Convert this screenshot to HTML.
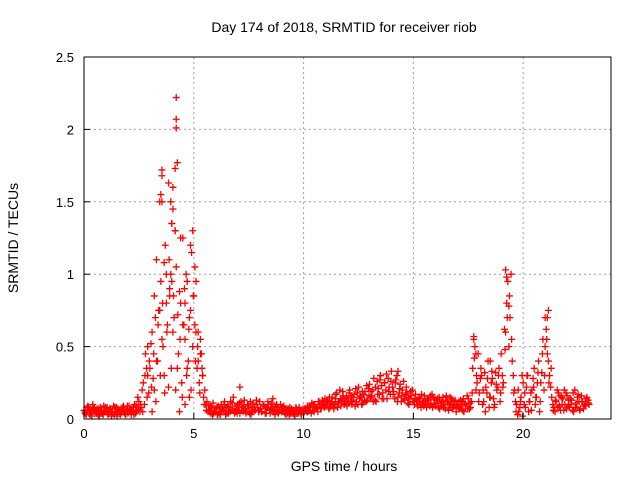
<!DOCTYPE html>
<html><head><meta charset="utf-8"><style>
body{margin:0;background:#fff}
svg{display:block;font-family:"Liberation Sans",sans-serif}
</style></head><body>
<svg id="chart" width="640" height="480" viewBox="0 0 640 480">
<text x="344" y="32" font-size="14" text-anchor="middle">Day 174 of 2018, SRMTID for receiver riob</text>
<text x="344" y="471" font-size="14" text-anchor="middle">GPS time / hours</text>
<text transform="translate(18,238) rotate(-90)" font-size="14" text-anchor="middle">SRMTID / TECUs</text>
<g id="grid"></g>
<g id="marks"></g>
<rect x="84" y="57" width="527" height="362" fill="none" stroke="#000" stroke-width="1"/>
<g id="axes"></g>
</svg>
<script>
const xTicks=[0,5,10,15,20];
const yTicks=[0,0.5,1,1.5,2,2.5];
const yTickLabels=["0","0.5","1","1.5","2","2.5"];
const series1Start=0.0;
const series1=[0.06,0.03,0.08,0.05,0.10,0.04,0.07,0.02,0.06,0.09,
0.05,0.03,0.07,0.04,0.08,0.02,0.06,0.05,0.09,0.03,
0.04,0.07,0.05,0.10,0.06,0.12,0.08,0.25,0.45,0.30,
0.35,0.60,0.85,1.10,0.75,0.95,0.50,1.20,0.65,0.90,
1.35,0.70,1.05,0.45,0.80,1.25,0.55,0.95,0.70,1.15,
0.85,0.60,0.40,0.55,0.30,0.20,0.12,0.06,0.08,0.04,
0.05,0.09,0.03,0.07,0.12,0.04,0.08,0.06,0.15,0.05,
0.10,0.04,0.08,0.13,0.05,0.09,0.03,0.11,0.06,0.08,
0.12,0.05,0.09,0.04,0.10,0.07,0.14,0.03,0.08,0.06,
0.05,0.09,0.03,0.07,0.04,0.06,0.02,0.05,0.08,0.03,
0.04,0.07,0.05,0.09,0.06,0.10,0.08,0.12,0.07,0.11,
0.09,0.13,0.08,0.15,0.10,0.18,0.12,0.09,0.16,0.11,
0.14,0.20,0.10,0.17,0.12,0.22,0.15,0.11,0.19,0.13,
0.24,0.16,0.28,0.12,0.21,0.30,0.18,0.25,0.14,0.22,
0.33,0.19,0.27,0.15,0.24,0.20,0.13,0.18,0.10,0.16,
0.12,0.17,0.09,0.14,0.11,0.16,0.08,0.13,0.10,0.15,
0.09,0.14,0.07,0.12,0.10,0.16,0.06,0.11,0.08,0.13,
0.10,0.07,0.12,0.05,0.09,0.14,0.08,0.35,0.50,0.25,
0.18,0.30,0.12,0.22,0.40,0.15,0.28,0.10,0.20,0.35,
0.45,0.25,0.60,0.95,0.70,0.40,0.20,0.10,0.05,0.15,
0.25,0.08,0.30,0.12,0.20,0.35,0.15,0.40,0.25,0.55,
0.70,0.45,0.30,0.15,0.08,0.12,0.18,0.06,0.14,0.10,
0.16,0.08,0.13,0.05,0.11,0.17,0.07,0.12,0.09,0.15,
0.10];
const series2Start=0.05;
const series2=[0.04,0.08,0.05,0.02,0.07,0.06,0.03,0.08,0.04,0.05,
0.08,0.06,0.02,0.09,0.05,0.07,0.03,0.08,0.04,0.06,
0.09,0.03,0.08,0.04,0.15,0.05,0.20,0.10,0.35,0.18,
0.52,0.28,0.70,0.40,1.50,0.55,0.30,0.80,0.22,1.00,
0.60,1.30,0.35,0.88,0.25,0.65,1.00,0.40,0.75,0.50,
0.65,0.35,0.25,0.45,0.15,0.10,0.05,0.09,0.03,0.07,
0.08,0.04,0.10,0.06,0.03,0.09,0.05,0.11,0.04,0.07,
0.06,0.12,0.05,0.07,0.10,0.04,0.08,0.06,0.13,0.05,
0.07,0.10,0.04,0.08,0.06,0.11,0.05,0.09,0.04,0.10,
0.08,0.04,0.06,0.03,0.07,0.05,0.08,0.04,0.06,0.05,
0.06,0.05,0.08,0.04,0.10,0.07,0.05,0.09,0.13,0.08,
0.12,0.07,0.11,0.09,0.14,0.08,0.20,0.13,0.10,0.15,
0.11,0.16,0.13,0.09,0.18,0.14,0.10,0.17,0.12,0.21,
0.15,0.20,0.13,0.26,0.17,0.23,0.14,0.20,0.28,0.17,
0.22,0.14,0.30,0.18,0.12,0.26,0.17,0.11,0.14,0.20,
0.10,0.13,0.15,0.08,0.12,0.10,0.14,0.09,0.17,0.11,
0.13,0.08,0.11,0.15,0.07,0.12,0.10,0.14,0.09,0.05,
0.08,0.13,0.06,0.11,0.16,0.07,0.12,0.55,0.20,0.45,
0.28,0.10,0.32,0.18,0.08,0.25,0.14,0.32,0.22,0.12,
0.30,0.62,0.80,0.50,1.00,0.30,0.12,0.03,0.08,0.30,
0.10,0.22,0.05,0.18,0.28,0.10,0.25,0.05,0.32,0.20,
0.62,0.40,0.22,0.10,0.05,0.20,0.09,0.15,0.06,0.18,
0.09,0.14,0.06,0.20,0.08,0.12,0.16,0.07,0.10,0.13];
const series3Start=0.075;
const series3=[0.05,0.09,0.03,0.06,0.08,0.04,0.07,0.05,0.03,0.08,
0.04,0.07,0.05,0.03,0.08,0.06,0.04,0.07,0.05,0.09,
0.06,0.05,0.03,0.09,0.07,0.10,0.05,0.30,0.15,0.40,
0.22,0.45,0.12,0.65,0.30,0.80,0.18,0.60,1.10,0.35,
0.85,0.20,0.72,0.55,0.15,0.90,0.30,0.62,0.20,0.85,
0.40,0.50,0.18,0.35,0.10,0.06,0.09,0.04,0.11,0.05,
0.03,0.07,0.05,0.10,0.08,0.04,0.12,0.06,0.09,0.04,
0.11,0.06,0.09,0.04,0.07,0.12,0.05,0.08,0.10,0.06,
0.05,0.09,0.07,0.12,0.04,0.08,0.06,0.10,0.05,0.08,
0.06,0.07,0.04,0.08,0.05,0.03,0.07,0.06,0.04,0.07,
0.07,0.09,0.06,0.11,0.05,0.08,0.12,0.07,0.10,0.14,
0.10,0.15,0.12,0.07,0.17,0.11,0.14,0.19,0.12,0.09,
0.18,0.12,0.15,0.21,0.10,0.16,0.19,0.13,0.23,0.16,
0.19,0.12,0.22,0.17,0.27,0.14,0.25,0.31,0.19,0.26,
0.17,0.25,0.12,0.21,0.16,0.14,0.22,0.15,0.19,0.12,
0.14,0.10,0.12,0.17,0.09,0.13,0.11,0.16,0.08,0.14,
0.11,0.15,0.09,0.08,0.13,0.10,0.15,0.07,0.12,0.09,
0.12,0.09,0.14,0.10,0.07,0.11,0.18,0.42,0.30,0.12,
0.35,0.20,0.05,0.28,0.15,0.33,0.08,0.24,0.30,0.18,
0.22,0.48,0.70,0.85,0.55,0.18,0.05,0.20,0.12,0.02,
0.18,0.30,0.12,0.06,0.22,0.15,0.32,0.12,0.45,0.30,
0.55,0.25,0.35,0.06,0.13,0.08,0.16,0.10,0.20,0.07,
0.13,0.10,0.18,0.08,0.15,0.06,0.12,0.09,0.14,0.11];
const extraTimes=[4.2,4.2,4.2,4.25,4.15,3.55,3.55,4.05,3.85,3.5,3.55,3.95,4.05,4.0,4.15,4.4,4.95,4.85,3.65,3.75,4.0,3.45,4.6,5.05,5.1,5.2,5.3,4.35,4.6,3.1,4.8,17.75,19.2,19.25,21.15,21.1,14.3,7.1,13.5,3.3,3.9,4.5,4.7,5.4,3.2,2.9,19.35,21.0,17.85,18.5];
const extraValues=[2.22,2.07,2.01,1.77,1.73,1.72,1.68,1.60,1.63,1.55,1.50,1.50,1.45,1.35,1.30,1.25,1.30,1.20,1.08,1.00,0.95,0.75,0.80,1.05,0.95,0.60,0.45,0.05,0.10,0.05,0.15,0.57,1.03,0.98,0.75,0.70,0.33,0.22,0.30,0.40,0.85,0.65,0.35,0.30,0.20,0.50,0.78,0.50,0.45,0.40];

const X0=84,X1=611,Y0=419,Y1=57,XMAX=24,YMAX=2.5;
const sx=v=>X0+v/XMAX*(X1-X0);
const sy=v=>Y0-v/YMAX*(Y0-Y1);
const NS="http://www.w3.org/2000/svg";
const grid=document.getElementById('grid'),axes=document.getElementById('axes'),marks=document.getElementById('marks');
function mk(tag,attrs,parent){const e=document.createElementNS(NS,tag);for(const k in attrs)e.setAttribute(k,attrs[k]);parent.appendChild(e);return e;}
xTicks.forEach((t,i)=>{
  const x=sx(t);
  if(t>0){const g=mk('line',{x1:x,x2:x,y1:Y1,y2:Y0,stroke:'#a0a0a0','stroke-dasharray':'2,3'},grid);
  
  }
  const tk=mk('line',{x1:x,x2:x,y1:Y0,y2:Y0-6,stroke:'#000'},axes);
  
  
  const tl=mk('text',{x:x,y:Y0+19,'font-size':'13','text-anchor':'middle'},axes);
  tl.textContent=String(t);
  
  
});
yTicks.forEach((t,i)=>{
  const y=sy(t);
  if(t>0&&t<YMAX){const g=mk('line',{x1:X0,x2:X1,y1:y,y2:y,stroke:'#a0a0a0','stroke-dasharray':'2,3'},grid);
  
  }
  const tk=mk('line',{x1:X0,x2:X0+6,y1:y,y2:y,stroke:'#000'},axes);
  
  
  const tl=mk('text',{x:X0-10,y:y+5,'font-size':'13','text-anchor':'end'},axes);
  tl.textContent=yTickLabels[i];
  
  
});
function plus(t,v){
  const x=sx(t),y=sy(v);
  const p=mk('path',{d:`M${x-3.5},${y}H${x+3.5}M${x},${y-3.5}V${y+3.5}`,stroke:'#ff0000','stroke-width':'1.3',fill:'none'},marks);
  
  
}
series1.forEach((v,i)=>plus(series1Start+i*0.1,v));
series2.forEach((v,i)=>plus(series2Start+i*0.1,v));
series3.forEach((v,i)=>plus(series3Start+i*0.1,v));
extraValues.forEach((v,i)=>plus(extraTimes[i],v));
</script>
</body></html>
